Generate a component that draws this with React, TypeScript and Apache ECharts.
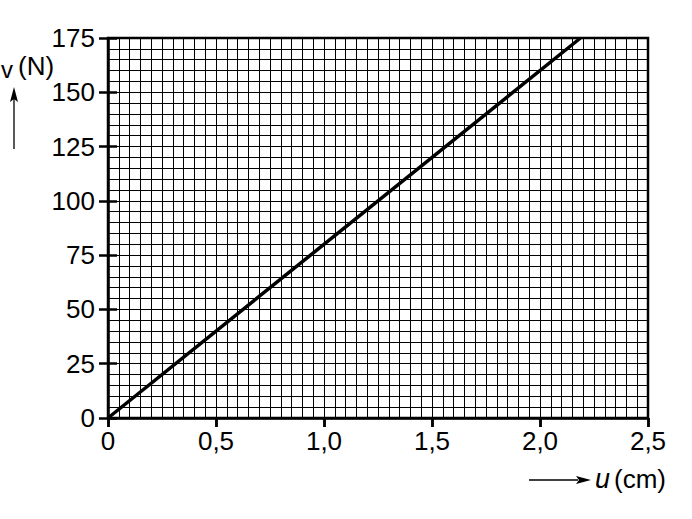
import React, { useEffect, useRef } from 'react';
import * as echarts from 'echarts';

// u in cm, F in N (straight line through the origin, 80 N/cm)
const lineU = [0, 2.1875];
const lineF = [0, 175];

const xTicks = [0, 0.5, 1.0, 1.5, 2.0, 2.5];
const yTicks = [0, 25, 50, 75, 100, 125, 150, 175];

const FONT = '"Liberation Sans", Arial, sans-serif';

const App: React.FC = () => {
  const chartRef = useRef<HTMLDivElement>(null);

  useEffect(() => {
    if (!chartRef.current) return;
    const chart = echarts.init(chartRef.current, undefined, { renderer: 'svg' });

    const baseX = {
      type: 'value' as const,
      min: xTicks[0],
      max: xTicks[xTicks.length - 1],
      interval: 0.5,
    };
    const baseY = {
      type: 'value' as const,
      min: yTicks[0],
      max: yTicks[yTicks.length - 1],
      interval: 25,
    };
    const tickStyle = { color: '#000', width: 2.5 };

    const option: echarts.EChartsCoreOption = {
      animation: false,
      grid: {
        left: 108,
        top: 38,
        width: 540,
        height: 380,
        show: true,
        borderColor: '#000',
        borderWidth: 2.5,
        backgroundColor: 'transparent',
      },
      xAxis: [
        {
          ...baseX,
          axisLine: { show: true, lineStyle: { color: '#000', width: 2.5 } },
          axisTick: { show: true, length: 9, lineStyle: tickStyle },
          minorTick: { show: false, splitNumber: 10 },
          splitLine: { show: true, lineStyle: { color: '#000', width: 1 } },
          minorSplitLine: { show: true, lineStyle: { color: '#000', width: 1 } },
          axisLabel: {
            color: '#000',
            fontSize: 26,
            fontFamily: FONT,
            margin: 10,
            formatter: (v: number) => v.toFixed(v === 0 ? 0 : 1).replace('.', ','),
          },
        },
        {
          ...baseX,
          axisLine: { show: false },
          axisTick: { show: true, inside: true, length: 9, lineStyle: tickStyle },
          axisLabel: { show: false },
          splitLine: { show: false },
        },
      ],
      yAxis: [
        {
          ...baseY,
          axisLine: { show: true, lineStyle: { color: '#000', width: 2.5 } },
          axisTick: { show: true, length: 9, lineStyle: tickStyle },
          minorTick: { show: false, splitNumber: 5 },
          splitLine: { show: true, lineStyle: { color: '#000', width: 1 } },
          minorSplitLine: { show: true, lineStyle: { color: '#000', width: 1 } },
          axisLabel: {
            color: '#000',
            fontSize: 26,
            fontFamily: FONT,
            margin: 13,
          },
        },
        {
          ...baseY,
          position: 'left',
          axisLine: { show: false },
          axisTick: { show: true, inside: true, length: 9, lineStyle: tickStyle },
          axisLabel: { show: false },
          splitLine: { show: false },
        },
      ],
      series: [
        {
          type: 'line',
          xAxisIndex: 0,
          yAxisIndex: 0,
          data: lineU.map((u, i) => [u, lineF[i]]),
          showSymbol: false,
          lineStyle: { color: '#000', width: 3.5 },
          silent: true,
        },
      ],
      graphic: [
        {
          type: 'text',
          left: 1,
          top: 57,
          style: { text: 'v', fill: '#000', font: `24px ${FONT}` },
        },
        {
          type: 'text',
          left: 18,
          top: 53,
          style: { text: '(N)', fill: '#000', font: `26px ${FONT}` },
        },
        {
          type: 'line',
          shape: { x1: 14, y1: 149, x2: 14, y2: 98 },
          style: { stroke: '#000', lineWidth: 1.3 },
        },
        {
          type: 'polygon',
          shape: { points: [[14, 87], [10, 102], [14, 99], [18, 102]] },
          style: { fill: '#000' },
        },
        {
          type: 'line',
          shape: { x1: 529, y1: 480, x2: 578, y2: 480 },
          style: { stroke: '#000', lineWidth: 1.3 },
        },
        {
          type: 'polygon',
          shape: { points: [[591, 480], [576, 476], [579, 480], [576, 484]] },
          style: { fill: '#000' },
        },
        {
          type: 'text',
          left: 595,
          top: 465,
          style: { text: 'u', fill: '#000', font: `italic 27px ${FONT}` },
        },
        {
          type: 'text',
          left: 614,
          top: 466,
          style: { text: '(cm)', fill: '#000', font: `26px ${FONT}` },
        },
      ],
    };

    chart.setOption(option);
    return () => {
      chart.dispose();
    };
  }, []);

  return (
    <div
      ref={chartRef}
      style={{ position: 'fixed', left: 0, top: 0, width: 692, height: 519, background: '#fff' }}
    />
  );
};

export default App;
